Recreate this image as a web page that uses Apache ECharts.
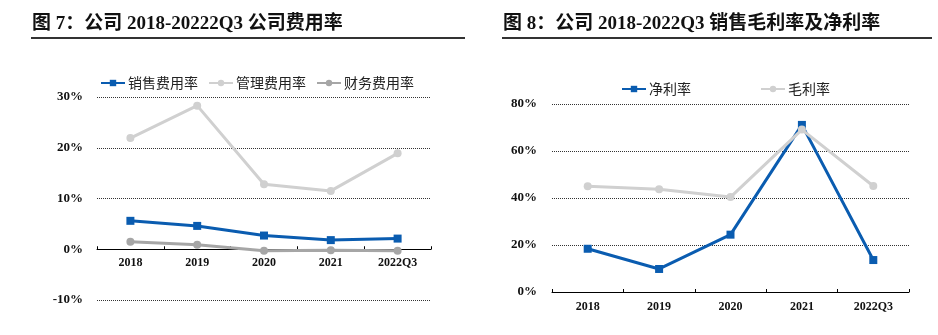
<!DOCTYPE html>
<html><head><meta charset="utf-8">
<script src="https://cdn.jsdelivr.net/npm/echarts@6/dist/echarts.min.js"></script>
<style>html,body{margin:0;padding:0;background:#fff}#c{width:938px;height:335px}</style>
</head><body><div id="c"></div>
<script>
var categories = ['2018', '2019', '2020', '2021', '2022Q3'];
var sellingRate = [5.6, 4.6, 2.7, 1.8, 2.1];
var adminRate = [21.9, 28.3, 12.8, 11.5, 18.9];
var financeRate = [1.5, 0.9, -0.3, -0.2, -0.3];
var netMargin = [18.4, 9.8, 24.4, 71.1, 13.6];
var grossMargin = [45.0, 43.7, 40.4, 69.1, 45.1];
var leftTicks = { min: -10, max: 30, interval: 10 };
var rightTicks = { min: 0, max: 80, interval: 20 };

var serif = '"Liberation Serif", "Times New Roman", "Noto Sans CJK SC", serif';
var cjk = '"Noto Sans CJK SC", sans-serif';
var BLUE = '#0a5cb0', LGRAY = '#d0d0d0', MGRAY = '#a6a6a6';

var chart = echarts.init(document.getElementById('c'), null, { renderer: 'canvas' });

function xAxis(gi, margin, offset) {
  return {
    type: 'category', gridIndex: gi, data: categories, boundaryGap: true, offset: offset,
    axisLine: { onZero: false, lineStyle: { color: '#000', width: 1 } },
    axisTick: { show: true, inside: true, length: 3, lineStyle: { color: '#000' } },
    axisLabel: { color: '#111', fontFamily: serif, fontWeight: 'bold', fontSize: 12, margin: margin },
    splitLine: { show: false }
  };
}
function yAxis(gi, t, margin) {
  return {
    type: 'value', gridIndex: gi, min: t.min, max: t.max, interval: t.interval,
    axisLine: { show: false }, axisTick: { show: false },
    axisLabel: { formatter: '{value}%', color: '#111', fontFamily: serif, fontWeight: 'bold', fontSize: 13, margin: margin },
    splitLine: { show: true, lineStyle: { type: [1, 1], color: '#333', width: 1 } }
  };
}
function line(name, data, color, symbol, xi) {
  return {
    name: name, type: 'line', data: data, xAxisIndex: xi, yAxisIndex: xi,
    symbol: symbol, symbolSize: 8, showSymbol: true,
    lineStyle: { color: color, width: 3 }, itemStyle: { color: color },
    animation: false
  };
}

chart.setOption({
  animation: false,
  title: [
    { text: '图 7：公司 2018-20222Q3 公司费用率', left: 27, top: 10,
      textStyle: { fontFamily: serif, fontWeight: 'bold', fontSize: 19, color: '#111' } },
    { text: '图 8：公司 2018-2022Q3 销售毛利率及净利率', left: 498, top: 10,
      textStyle: { fontFamily: serif, fontWeight: 'bold', fontSize: 19, color: '#111' } }
  ],
  graphic: [
    { type: 'line', shape: { x1: 31, y1: 38, x2: 465, y2: 38 }, style: { stroke: '#333', lineWidth: 2 } },
    { type: 'line', shape: { x1: 502, y1: 38, x2: 932, y2: 38 }, style: { stroke: '#333', lineWidth: 2 } }
  ],
  legend: [
    { data: ['销售费用率', '管理费用率', '财务费用率'], left: 95, top: 71, itemWidth: 24, itemHeight: 8, itemGap: 10,
      textStyle: { fontFamily: cjk, fontSize: 14, color: '#222', padding: [0, 0, 0, -2] } },
    { data: ['净利率', '毛利率'], left: 616, top: 77, itemWidth: 24, itemHeight: 8, itemGap: 69,
      textStyle: { fontFamily: cjk, fontSize: 14, color: '#222', padding: [0, 0, 0, -2] } }
  ],
  grid: [
    { left: 97, right: 507, top: 97, bottom: 35 },
    { left: 552, right: 29, top: 104, bottom: 43 }
  ],
  xAxis: [xAxis(0, 8, -50.75), xAxis(1, 9, 0)],
  yAxis: [yAxis(0, leftTicks, 14), yAxis(1, rightTicks, 15)],
  series: [
    line('销售费用率', sellingRate, BLUE, 'rect', 0),
    line('管理费用率', adminRate, LGRAY, 'circle', 0),
    line('财务费用率', financeRate, MGRAY, 'circle', 0),
    line('净利率', netMargin, BLUE, 'rect', 1),
    line('毛利率', grossMargin, LGRAY, 'circle', 1)
  ]
});
</script></body></html>
